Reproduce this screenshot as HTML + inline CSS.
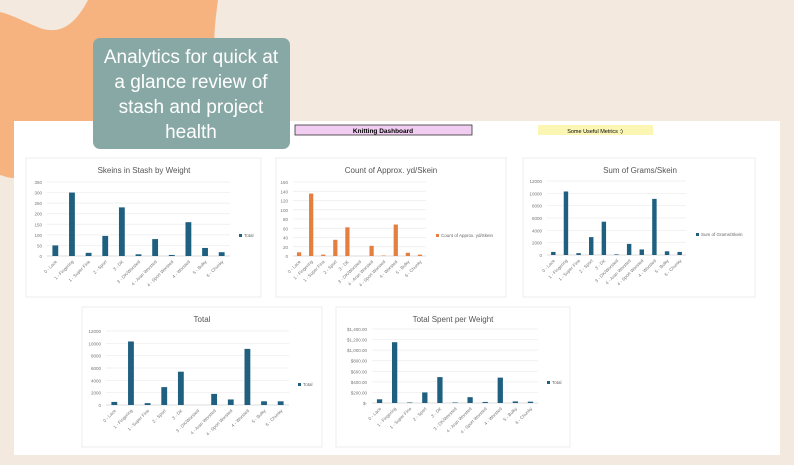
<!DOCTYPE html>
<html><head><meta charset="utf-8"><style>
body{margin:0;width:794px;height:460px;overflow:hidden;background:#f3e9df;font-family:"Liberation Sans",sans-serif;}
</style></head><body>
<svg id="s" width="794" height="460" xmlns="http://www.w3.org/2000/svg">
<path d="M0,0 L218,0 C214,30 212,50 218,80 L218,121 L14,121 L14,178 C8,178 4,176 0,175 Z" fill="#f7b37f"/>
<path d="M0,0 L88,0 C75,25 60,35 40,28 C25,22 10,14 0,12 Z" fill="#f3e9df"/>
<rect x="14" y="121" width="766" height="334" fill="#fff"/>
<rect x="93" y="38" width="197" height="111" rx="7" fill="#88a8a5"/>
<g fill="#fff" font-size="19" text-anchor="middle">
<text x="191" y="63">Analytics for quick at</text>
<text x="191" y="88">a glance review of</text>
<text x="191" y="113">stash and project</text>
<text x="191" y="138">health</text></g>
<rect x="295" y="125" width="177" height="10" fill="#f2cdf2" stroke="#333" stroke-width="0.8"/>
<text x="383" y="133" font-size="6.5" font-weight="bold" text-anchor="middle">Knitting Dashboard</text>
<rect x="538" y="125" width="115" height="10" fill="#fbf6b4"/>
<text x="595" y="133" font-size="5.5" text-anchor="middle">Some Useful Metrics :)</text>
</svg>
<script>
const categories=["0 - Lace","1 - Fingering","1 - Super Fine","2 - Sport","3 - DK","3 - DK/Worsted","4 - Aran Worsted","4 - Sport Worsted","4 - Worsted","5 - Bulky","6 - Chunky"];
const skeinsValues=[50,300,15,95,230,8,80,5,160,38,18];
const skeinsTicks=[0,50,100,150,200,250,300,350];
const countValues=[8,135,3,35,62,0,22,1,68,7,3];
const countTicks=[0,20,40,60,80,100,120,140,160];
const gramsValues=[500,10300,300,2900,5400,100,1800,900,9100,600,500];
const gramsTicks=[0,2000,4000,6000,8000,10000,12000];
const totalValues=[500,10300,300,2900,5400,0,1800,900,9100,600,600];
const totalTicks=[0,2000,4000,6000,8000,10000,12000];
const spentValues=[70,1150,10,200,490,10,110,20,480,30,25];
const spentTicks=[0,200,400,600,800,1000,1200,1400];
const spentTickLabels=["$-","$200.00","$400.00","$600.00","$800.00","$1,000.00","$1,200.00","$1,400.00"];
const NS="http://www.w3.org/2000/svg";
const svg=document.getElementById('s');
function mk(t,a,p){const e=document.createElementNS(NS,t);for(const k in a)e.setAttribute(k,a[k]);(p||svg).appendChild(e);return e;}
function chart(o){
 const g=mk('g',{});
 
 
 const box=mk('rect',{x:o.bx,y:o.by,width:o.bw,height:o.bh,fill:'#fff',stroke:'#ececec','stroke-width':1},g);
 
 
 const t=mk('text',{x:o.tx,y:o.by+15,'font-size':8,'text-anchor':'middle',fill:'#555'},g);t.textContent=o.title;
 
 
 const max=o.ticks[o.ticks.length-1];
 const y=v=>o.base-(v/max)*(o.base-o.top);
 o.ticks.forEach((tk,i)=>{
  const l=mk('line',{x1:o.x0,x2:o.x1,y1:y(tk),y2:y(tk),stroke:i==0?'#d0d0d0':'#ececec','stroke-width':0.7},g);
  
  
  const tl=mk('text',{x:o.x0-5,y:y(tk)+2,'font-size':4.5,'text-anchor':'end',fill:'#777'},g);
  tl.textContent=o.labels?o.labels[i]:tk;
  
  
 });
 const n=categories.length,w=(o.x1-o.x0)/n,bw=w*0.35;
 o.values.forEach((v,i)=>{
  const cx=o.x0+w*(i+0.5);
  const r=mk('rect',{x:cx-bw/2,y:y(v),width:bw,height:o.base-y(v),fill:o.color},g);
  
  
  const c=mk('text',{x:cx+2,y:o.base+6,'font-size':4.5,'text-anchor':'end',fill:'#777',transform:`rotate(-45 ${cx+2} ${o.base+6})`},g);
  c.textContent=categories[i];
  
  
 });
 const lg=mk('rect',{x:o.lx,y:o.ly-3,width:3,height:3,fill:o.color},g);
 
 
 const lt=mk('text',{x:o.lx+5,y:o.ly,'font-size':4.5,fill:'#666'},g);lt.textContent=o.legend;
 
 
}
const blue='#1f5f7f',orange='#e57f3f';
chart({name:'skeins-chart',bx:26,by:158,bw:235,bh:139,tx:144,title:'Skeins in Stash by Weight',x0:47,x1:230,top:182,base:256,ticks:skeinsTicks,values:skeinsValues,color:blue,lx:239,ly:237,legend:'Total'});
chart({name:'count-chart',bx:276,by:158,bw:230,bh:139,tx:391,title:'Count of Approx. yd/Skein',x0:293,x1:426,top:182,base:256,ticks:countTicks,values:countValues,color:orange,lx:436,ly:237,legend:'Count of Approx. yd/Skein'});
chart({name:'grams-chart',bx:523,by:158,bw:232,bh:139,tx:640,title:'Sum of Grams/Skein',x0:547,x1:686,top:181,base:255,ticks:gramsTicks,values:gramsValues,color:blue,lx:696,ly:236,legend:'Sum of Grams/Skein'});
chart({name:'total-chart',bx:82,by:307,bw:240,bh:140,tx:202,title:'Total',x0:106,x1:289,top:331,base:405,ticks:totalTicks,values:totalValues,color:blue,lx:298,ly:386,legend:'Total'});
chart({name:'spent-chart',bx:336,by:307,bw:234,bh:140,tx:453,title:'Total Spent per Weight',x0:372,x1:538,top:329,base:403,ticks:spentTicks,labels:spentTickLabels,values:spentValues,color:blue,lx:547,ly:384,legend:'Total'});
</script>
</body></html>
